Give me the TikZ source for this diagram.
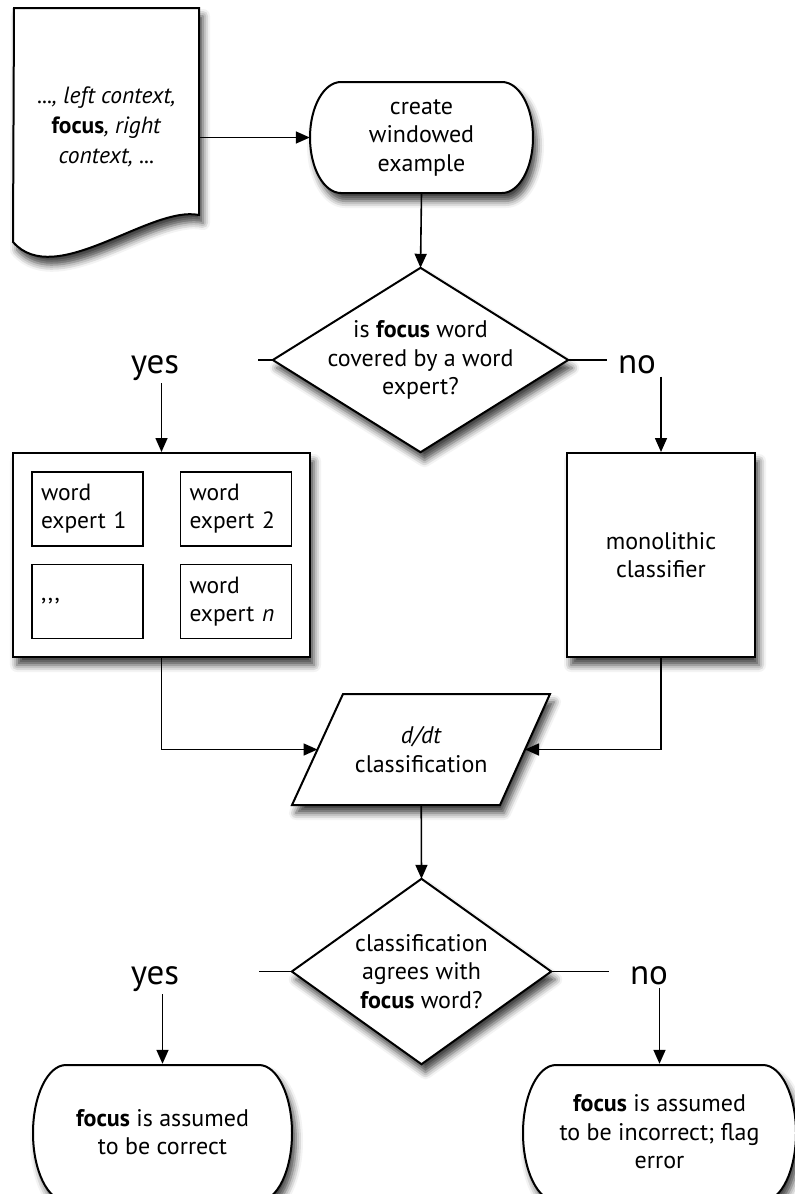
\documentclass[tikz,border=0pt]{standalone}
\usepackage{fontspec}
\setmainfont{PT Sans}
\usetikzlibrary{arrows.meta,backgrounds,shadows.blur}
\tikzset{
  shp/.style={draw=black, line width=2pt, fill=white, line join=miter,
    blur shadow={shadow xshift=4pt, shadow yshift=-8pt, shadow blur radius=7pt, shadow opacity=75}},
  txt/.style={align=center, inner sep=0pt, font=\fontsize{24}{28.5}\selectfont},
  conn/.style={line width=1.6pt, -{Triangle[length=14pt,width=12pt]}},
  stub/.style={line width=1.6pt},
  lbl/.style={font=\fontsize{35}{40}\selectfont, inner sep=3pt},
  inbox/.style={draw, line width=1.8pt, fill=white, minimum width=111pt, minimum height=74pt,
    text width=93pt, align=left, inner xsep=9pt, inner ysep=0pt, font=\fontsize{23.5}{28}\selectfont}
}
\newcommand\mkterm[5]{%
  \draw[shp] ({#1+#5},#3) -- ({#2-#5},#3)
    .. controls ({#2-#5+0.5523*#5},#3) and (#2,{(#3+#4)/2-0.5523*(#4-#3)/2}) .. (#2,{(#3+#4)/2})
    .. controls (#2,{(#3+#4)/2+0.5523*(#4-#3)/2}) and ({#2-#5+0.5523*#5},#4) .. ({#2-#5},#4)
    -- ({#1+#5},#4)
    .. controls ({#1+#5-0.5523*#5},#4) and (#1,{(#3+#4)/2+0.5523*(#4-#3)/2}) .. (#1,{(#3+#4)/2})
    .. controls (#1,{(#3+#4)/2-0.5523*(#4-#3)/2}) and ({#1+#5-0.5523*#5},#3) .. cycle;}
\begin{document}
\begin{tikzpicture}[x=1pt,y=-1pt]
\useasboundingbox (0,0) rectangle (795,1194);

% text-bearing nodes
\node[txt, font=\fontsize{23.5}{30}\selectfont, minimum width=185pt] (doc) at (106.5,127)
  {\textit{..., left context,}\\\textbf{focus}\textit{, right}\\\textit{context, ...}};
\node[txt, minimum width=223pt, minimum height=111pt] (term) at (421.5,137.5) {create\\windowed\\example};
\node[txt, minimum width=295pt, minimum height=184pt] (dec1) at (420.5,360)
  {is \textbf{focus} word\\covered by a word\\expert?};
\node[lbl, anchor=base] (yes1) at (155,373) {yes};
\node[lbl, anchor=base] (no1) at (637,373) {no};

\node[shp, minimum width=297pt, minimum height=204pt, inner sep=0pt] (exp) at (161.5,555) {};
\node[inbox] (e1) at (87.5,509) {word\\expert 1};
\node[inbox] (e2) at (236,509) {word\\expert 2};
\node[inbox] (e3) at (87.5,601.5) {,{},{},};
\node[inbox] (e4) at (236,601.5) {word\\expert \textit{n}};
\node[shp, txt, minimum width=188pt, minimum height=204pt] (mono) at (661,555) {monolithic\\classifier};

\node[txt, minimum width=150pt, minimum height=111pt] (para) at (421.25,749.5) {\textit{d/dt}\\classification};
\coordinate (paraW) at (317.5,749.5);
\coordinate (paraE) at (525,749.5);

\node[txt, minimum width=259pt, minimum height=185pt] (dec2) at (421.5,971.5)
  {classification\\agrees with\\\textbf{focus} word?};
\node[lbl, anchor=base] (yes2) at (155,984) {yes};
\node[lbl, anchor=base] (no2) at (649,984) {no};

\node[txt, minimum width=259pt, minimum height=136pt] (res1) at (162.5,1132)
  {\textbf{focus} is assumed\\to be correct};
\node[txt, minimum width=273pt, minimum height=136pt] (res2) at (659.5,1132)
  {\textbf{focus} is assumed\\to be incorrect; flag\\error};

% outlines
\begin{scope}[on background layer]
  \draw[shp] (14,8) -- (199,8) -- (199,215) .. controls (150,205) and (55,290) .. (13,242) -- cycle;
  \mkterm{310}{533}{82}{193}{31}
  \draw[shp] (dec1.north) -- (dec1.east) -- (dec1.south) -- (dec1.west) -- cycle;
  \draw[shp] (343,694) -- (550,694) -- (500,805) -- (292,805) -- cycle;
  \draw[shp] (dec2.north) -- (dec2.east) -- (dec2.south) -- (dec2.west) -- cycle;
  \mkterm{33}{292}{1065}{1201}{33}
  \mkterm{523}{796}{1065}{1201}{33}
\end{scope}

% connectors
\coordinate (s1L) at (258,360);
\coordinate (s1R) at (607,360);
\coordinate (s2L) at (259,971.5);
\coordinate (s2R) at (609,971.5);
\draw[conn] (doc.east |- term.west) -- (term.west);
\draw[conn] (term.south) -- (dec1.north);
\draw[stub] (dec1.west) -- (s1L);
\draw[stub] (dec1.east) -- (s1R);
\draw[conn] (yes1.south -| exp.north) -- (exp.north);
\draw[conn] (no1.south -| mono.north) -- (mono.north);
\draw[conn] (exp.south) |- (paraW);
\draw[conn] (mono.south) |- (paraE);
\draw[conn] (para.south) -- (dec2.north);
\draw[stub] (dec2.west) -- (s2L);
\draw[stub] (dec2.east) -- (s2R);
\draw[conn] (yes2.south -| res1.north) -- (res1.north);
\draw[conn] (no2.south -| res2.north) -- (res2.north);
\end{tikzpicture}
\end{document}
